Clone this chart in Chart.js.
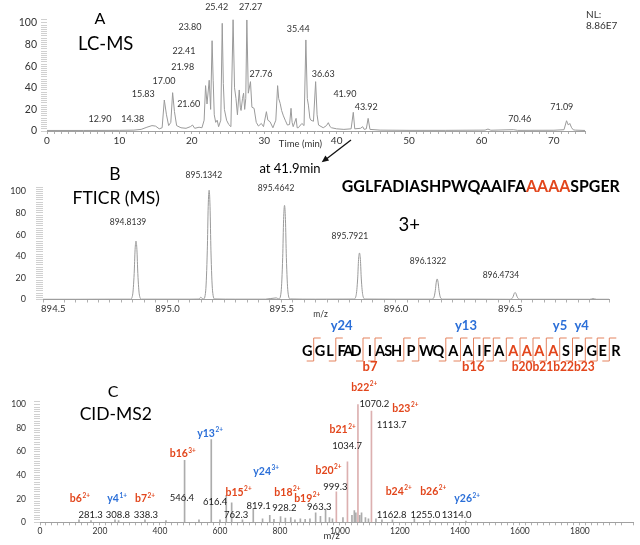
<!DOCTYPE html>
<html lang="en">
<head>
<meta charset="utf-8">
<title>LC-MS / FTICR / CID-MS2</title>
<script src="https://cdn.jsdelivr.net/npm/chart.js@4.4.0/dist/chart.umd.min.js"></script>
<style>
  body { margin: 0; background: #fff; }
  #wrap { position: relative; width: 640px; height: 545px; overflow: hidden; font-family: Lato, sans-serif; }
  canvas { position: absolute; left: 0; }
  svg { position: absolute; left: 0; top: 0; }
</style>
</head>
<body>
<div id="wrap">
  <canvas id="lc" width="640" height="152" style="top:0"></canvas>
  <canvas id="ms" width="640" height="172" style="top:150px"></canvas>
  <canvas id="ms2" width="640" height="165" style="top:380px"></canvas>
  <svg id="ann" width="640" height="545" font-family="Lato, sans-serif"></svg>
</div>
<script>
// ---- A: LC-MS chromatogram (time in min, relative abundance)
const lcTime = [0,5,10,12,13,13.8,14.5,15,15.5,15.9,16.2,16.5,16.8,17.1,17.35,17.6,17.9,18.5,19.2,19.8,20.1,20.4,21.0,21.4,21.7,21.9,22.1,22.4,22.6,22.8,22.95,23.1,23.3,23.5,23.7,24.0,24.2,24.35,24.5,24.8,25.1,25.4,25.7,25.9,26.1,26.3,26.55,26.7,26.8,27.0,27.15,27.3,27.45,27.6,27.8,28.1,28.3,28.6,28.9,29.2,29.6,29.9,30.3,30.5,30.8,31.2,31.6,31.85,32.0,32.2,32.4,32.65,32.9,33.2,33.5,33.7,33.85,34.0,34.4,34.55,34.7,35.2,35.5,35.75,35.95,36.1,36.3,36.45,36.8,37.1,37.3,37.5,38.15,38.6,38.85,39.1,39.3,40,41,42.0,42.3,42.5,43.3,43.6,43.8,44.1,44.35,44.6,46,50,55,60.5,60.9,61.3,64.4,65,70,71.4,71.75,72.0,72.2,72.45,72.7,73,74.3];
const lcIntensity = [0.5,0.5,0.6,0.8,1.5,3.5,5,4.5,2,3,28.7,15,5,8,35.5,18,5,3,2.5,4,5.5,2.5,3.5,3,10,42,25,47,20,83.6,47,15,8,10,4,10,99.7,44,20,10,6,4,103,40,30,15,38,22,19,30,35,20,30,102.8,35,45.7,22,21,8,4.6,7,4,17.9,10,8.6,3,10,42,30,25.6,19,14,10,5.5,6,21,8,4,11.7,3,3,7,5,84.3,30,24,12,10,9,45.7,15,5.5,3,5,7.7,4,3,2,1.5,2,17.3,2,2.5,4,1.5,2,11.7,1.5,0.8,0.6,0.6,0.8,1.8,0.7,1.2,0.6,0.7,1.2,9.5,5.5,7,3,1,0.8,0.5];
const lcPeakText = ['25.42','27.27','23.80','35.44','22.41','21.98','17.00','15.83','21.60','27.76','36.63','12.90','14.38','41.90','43.92','70.46','71.09'];
const lcLabelAt = [[23.43,114.5],[28.12,114.5],[19.74,96.6],[34.7,94.4],[18.91,74.1],[18.74,59],[16.15,46.6],[13.3,34.3],[19.56,25],[29.55,52.8],[38.15,52.8],[7.32,10.8],[11.83,10.8],[41.14,34.3],[44.08,21.9],[65.3,10.8],[71.1,21.9]];

// ---- B: FTICR isotope cluster (m/z, relative abundance)
const msMz = [894.407,894.55,894.70,894.789,894.799,894.806,894.810,894.814,894.818,894.822,894.829,894.839,894.95,895.05,895.090,895.097,895.104,895.109,895.119,895.126,895.130,895.134,895.138,895.142,895.149,895.159,895.25,895.38,895.428,895.439,895.449,895.456,895.460,895.464,895.468,895.472,895.479,895.489,895.60,895.767,895.777,895.784,895.788,895.792,895.796,895.800,895.807,895.817,895.95,896.107,896.117,896.124,896.128,896.132,896.136,896.140,896.147,896.157,896.30,896.448,896.458,896.465,896.469,896.473,896.477,896.481,896.488,896.498,896.65,896.80,896.814,896.83,896.884];
const msInt = [0.2,0.2,0.3,0.3,4,24,46,54,46,24,4,0.3,0.3,0.3,0.4,2,1,0.5,8,45,86,101,86,45,8,0.5,0.3,0.3,1.5,0.5,7,39,74,87,74,39,7,0.5,0.3,0.4,3.5,19,37,43,37,19,3.5,0.4,0.3,0.3,1.5,8.5,16,19,16,8.5,1.5,0.3,0.3,0.2,0.6,3,5.5,6.5,5.5,3,0.6,0.2,0.2,0.2,0.8,0.2,0.2];
const msPeakText = ['894.8139','895.1342','895.4642','895.7921','896.1322','896.4734'];
const msLabelAt = [[894.779,71.1],[895.111,115.3],[895.427,103.2],[895.75,58.8],[896.092,35],[896.411,22]];

// ---- C: CID-MS2 stick spectrum (m/z, relative abundance)
const cidMz = [130,170,250,262,350,420,482,530,571,600,621,639,675,711,742,766,780,802,818,836,850,868,884,900,919,935,952,965,975,988,1010,1025,1040,1048,1053,1060,1066,1072,1085,1095,1105,1120,1140,1175,1248,1300,1420];
const cidInt = [2,1.5,2,1.5,2,1.5,52.7,2,70.3,2,23,16.5,2,11.6,3,6,2.5,4.8,3.5,4,2,3,2.5,3,8,5,11,4,3,26,4,51.5,6,10,8,100,6,8,4,3,94.6,3,2,2,3,1.5,1];
// [ion, charge, kind, m/z anchor, abundance anchor]
const cidIons = [
  ['b6','2+','b',133,19.8],['y4','1+','y',257,19.8],['b7','2+','b',350,19.8],
  ['b16','3+','b',476,58.1],['y13','2+','y',567,75.7],['b15','2+','b',662,25.5],
  ['y24','3+','y',754,43],['b18','2+','b',825,25.5],['b19','2+','b',891,20.4],
  ['b20','2+','b',962,43.9],['b21','2+','b',1009,78.5],['b22','2+','b',1081,114.8],
  ['b23','2+','b',1218,96.9],['b24','2+','b',1196,26],['b26','2+','b',1311,26],
  ['y26','2+','y',1424,19.8]
];
const cidMzText = [
  ['281.3',169,6.2],['308.8',260,6.2],['338.3',353,6.2],['546.4',473,20.7],['616.4',584,17.5],
  ['762.3',654,6.2],['819.1',729,14.1],['928.2',815,11.9],['963.3',931,12.8],['999.3',985,30.3],
  ['1034.7',1024,64.9],['1070.2',1115,100.6],['1113.7',1172,82.7],['1162.8',1172,6.2],
  ['1255.0',1285,6.2],['1314.0',1389,6.2]
];

const RED = '#E2461C', BLUE = '#2B6FD8';
Chart.defaults.font.family = 'Lato, sans-serif';
Chart.defaults.color = '#333';

// draws text (with optional superscript) centred at data coordinates
const textLabels = {
  id: 'textLabels',
  afterDatasetsDraw(chart, args, opts) {
    const { ctx, scales: { x, y } } = chart;
    ctx.save();
    ctx.textBaseline = 'middle';
    ctx.textAlign = 'left';
    for (const it of opts.items || []) {
      const px = x.getPixelForValue(it.x), py = y.getPixelForValue(it.y);
      const w = it.bold ? 'bold ' : '';
      const size = it.size || opts.size;
      ctx.font = w + size + 'px Lato';
      const w1 = ctx.measureText(it.text).width;
      let w2 = 0;
      if (it.sup) {
        ctx.font = w + (size * 0.62) + 'px Lato';
        w2 = ctx.measureText(it.sup).width + 0.5;
      }
      const left = px - (w1 + w2) / 2;
      ctx.fillStyle = it.color || opts.color || '#333';
      ctx.font = w + size + 'px Lato';
      ctx.fillText(it.text, left, py);
      if (it.sup) {
        ctx.font = w + (size * 0.62) + 'px Lato';
        ctx.fillText(it.sup, left + w1 + 0.5, py - size * 0.32);
      }
    }
    ctx.restore();
  }
};

function baseOptions() {
  return {
    responsive: false,
    animation: false,
    events: [],
    plugins: { legend: { display: false }, tooltip: { enabled: false } },
    elements: { point: { radius: 0 } }
  };
}

// A
const optA = baseOptions();
optA.layout = { padding: { top: 19, right: 55, left: 0, bottom: 0 } };
optA.plugins.textLabels = { size: 9, color: '#333',
  items: lcPeakText.map((t, i) => ({ text: t, x: lcLabelAt[i][0], y: lcLabelAt[i][1] })) };
optA.scales = {
  x: { type: 'linear', min: 0, max: 74.3,
    afterFit: s => { s.height = 21; },
    ticks: { stepSize: 1, autoSkip: false, maxRotation: 0, padding: 1, font: { size: 10 },
      callback: v => (v % 10 === 0 ? v : '') },
    grid: { drawOnChartArea: false, tickLength: 3, color: '#b0b0b0' },
    border: { color: '#a0a0a0' } },
  y: { min: 0, max: 103.7,
    afterFit: s => { s.width = 47; },
    ticks: { stepSize: 2, autoSkip: false, padding: 4, font: { size: 10.5 },
      callback: v => (v % 20 === 0 ? v : '') },
    grid: { drawOnChartArea: false, tickLength: 6, color: '#d0d0d0' },
    border: { display: false } }
};
new Chart(document.getElementById('lc'), {
  type: 'line',
  data: { datasets: [{ data: lcTime.map((t, i) => ({ x: t, y: lcIntensity[i] })),
    borderColor: '#9a9a9a', borderWidth: 1, tension: 0 }] },
  options: optA,
  plugins: [textLabels]
});

// B
const optB = baseOptions();
optB.layout = { padding: { top: 37, right: 31, left: 0, bottom: 0 } };
optB.plugins.textLabels = { size: 8.5, color: '#333',
  items: msPeakText.map((t, i) => ({ text: t, x: msLabelAt[i][0], y: msLabelAt[i][1] })) };
optB.scales = {
  x: { type: 'linear', min: 894.407, max: 896.884,
    afterFit: s => { s.height = 22.5; },
    ticks: { stepSize: 0.05, autoSkip: false, maxRotation: 0, padding: 1, labelOffset: -11, font: { size: 9.5 },
      callback: v => (Math.abs(v * 2 - Math.round(v * 2)) < 1e-6 ? v.toFixed(1) : '') },
    grid: { drawOnChartArea: false, tickLength: 3, color: '#b0b0b0' },
    border: { color: '#a0a0a0' } },
  y: { min: 0, max: 104,
    afterFit: s => { s.width = 43; },
    ticks: { stepSize: 2, autoSkip: false, padding: 10, font: { size: 9 },
      callback: v => (v % 20 === 0 ? v : '') },
    grid: { drawOnChartArea: false, tickLength: 7, color: '#d0d0d0' },
    border: { display: false } }
};
new Chart(document.getElementById('ms'), {
  type: 'line',
  data: { datasets: [{ data: msMz.map((m, i) => ({ x: m, y: msInt[i] })),
    borderColor: '#9a9a9a', borderWidth: 1, cubicInterpolationMode: 'monotone' }] },
  options: optB,
  plugins: [textLabels]
});

// C
const optC = baseOptions();
optC.layout = { padding: { top: 21, right: 7, left: 0, bottom: 0 } };
const cidItems = cidIons.map(r => ({ text: r[0], sup: r[1], bold: true, size: 10.5,
  color: r[2] === 'b' ? RED : BLUE, x: r[3], y: r[4] }))
  .concat(cidMzText.map(r => ({ text: r[0], x: r[1], y: r[2], color: '#222' })));
optC.plugins.textLabels = { size: 9.5, items: cidItems };
optC.scales = {
  x: { type: 'linear', min: 0, max: 1977, offset: false,
    afterFit: s => { s.height = 22.7; },
    ticks: { stepSize: 20, autoSkip: false, maxRotation: 0, padding: 1, font: { size: 8.5 },
      callback: v => (v % 200 === 0 ? v : '') },
    grid: { drawOnChartArea: false, tickLength: 3, color: '#b0b0b0', offset: false },
    border: { color: '#a0a0a0' } },
  y: { min: 0, max: 103.1,
    afterFit: s => { s.width = 40; },
    ticks: { stepSize: 2, autoSkip: false, padding: 8, font: { size: 8.5 },
      callback: v => (v % 20 === 0 ? v : '') },
    grid: { drawOnChartArea: false, tickLength: 6, color: '#d0d0d0' },
    border: { display: false } }
};
new Chart(document.getElementById('ms2'), {
  type: 'bar',
  data: { datasets: [{ data: cidMz.map((m, i) => ({ x: m, y: cidInt[i] })),
    backgroundColor: ctx => (ctx.raw && ctx.raw.x > 950 && ctx.raw.y > 25 ? '#dcb0b0' : '#acacac'),
    barThickness: 1, grouped: false }] },
  options: optC,
  plugins: [textLabels]
});

// ---- text, sequence map and arrow
const svg = document.getElementById('ann');
const NS = 'http://www.w3.org/2000/svg';
function txt(s, x, y, size, attrs) {
  const t = document.createElementNS(NS, 'text');
  t.setAttribute('x', x); t.setAttribute('y', y);
  t.setAttribute('font-size', size);
  t.setAttribute('text-anchor', 'middle');
  t.setAttribute('dominant-baseline', 'central');
  for (const k in attrs || {}) t.setAttribute(k, attrs[k]);
  t.textContent = s;
  svg.appendChild(t);
  return t;
}
txt('A', 100, 17, 16);
txt('LC-MS', 105.7, 43, 18.5);
txt('B', 115, 173, 17.5);
txt('FTICR (MS)', 116.3, 197, 17.5);
txt('C', 113, 390, 16);
txt('CID-MS2', 115.8, 413, 17.5);
txt('NL:', 586, 14, 10, { 'text-anchor': 'start', fill: '#333' });
txt('8.86E7', 586, 25, 10, { 'text-anchor': 'start', fill: '#333' });
txt('Time (min)', 300.5, 143.5, 9.5, { fill: '#333' });
txt('at 41.9min', 290, 167.5, 13);
txt('3+', 409.3, 224, 18.5);
txt('m/z', 320.5, 313.5, 8.5, { fill: '#333' });
txt('m/z', 331.7, 535.5, 9.5, { fill: '#333' });

const seq = txt('', 480.8, 184.5, 17, { 'font-weight': 700, textLength: 278, lengthAdjust: 'spacingAndGlyphs' });
[['GGLFADIASHPWQAAIFA', '#000'], ['AAAA', RED], ['SPGER', '#000']].forEach(p => {
  const ts = document.createElementNS(NS, 'tspan');
  ts.setAttribute('fill', p[1]); ts.textContent = p[0]; seq.appendChild(ts);
});

// arrow from the 41.9 min region to panel B
const arrow = document.createElementNS(NS, 'g');
arrow.innerHTML = '<line x1="351" y1="140" x2="326" y2="159.2" stroke="#111" stroke-width="1.3"/>' +
  '<polygon points="321.7,162.3 329.1,160.4 325.4,155.6" fill="#111"/>';
svg.appendChild(arrow);

// fragment map
const seqLetters = 'GGLFADIASHPWQAAIFAAAAASPGER';
const letterX = [307.3,320,330,341.7,348.3,356,370,380,388.3,396.7,411,426.7,438.3,453.3,467.7,479.3,487.3,499.3,513.3,526.7,539.3,553.3,566,579,591.7,602.7,616];
const cutX = [313.7,335.8,363,375,403.8,418.8,445.8,460.5,473.5,483.3,493.3,506.3,520,533,546.3,559.7,572.5,585.3,597.2,609.3];
const brackets = document.createElementNS(NS, 'g');
brackets.setAttribute('stroke', '#E4835F');
brackets.setAttribute('stroke-width', '1');
brackets.setAttribute('fill', 'none');
brackets.innerHTML = cutX.map(x =>
  `<path d="M${x + 7},338 L${x},338 L${x},361 L${x - 7},361"/>`).join('');
svg.appendChild(brackets);
for (let i = 0; i < seqLetters.length; i++) {
  txt(seqLetters[i], letterX[i], 350.7, 14.5, { 'font-weight': 700, fill: i >= 18 && i <= 21 ? RED : '#000' });
}
txt('y24', 341.7, 325, 13, { 'font-weight': 700, fill: BLUE });
txt('y13', 466, 325, 13, { 'font-weight': 700, fill: BLUE });
txt('y5', 560, 325, 13, { 'font-weight': 700, fill: BLUE });
txt('y4', 581.7, 325, 13, { 'font-weight': 700, fill: BLUE });
txt('b7', 370, 366, 13, { 'font-weight': 700, fill: RED });
txt('b16', 473.3, 366, 13, { 'font-weight': 700, fill: RED });
txt('b20b21b22b23', 553.3, 366, 13, { 'font-weight': 700, fill: RED, textLength: 83, lengthAdjust: 'spacingAndGlyphs' });
</script>
</body>
</html>
